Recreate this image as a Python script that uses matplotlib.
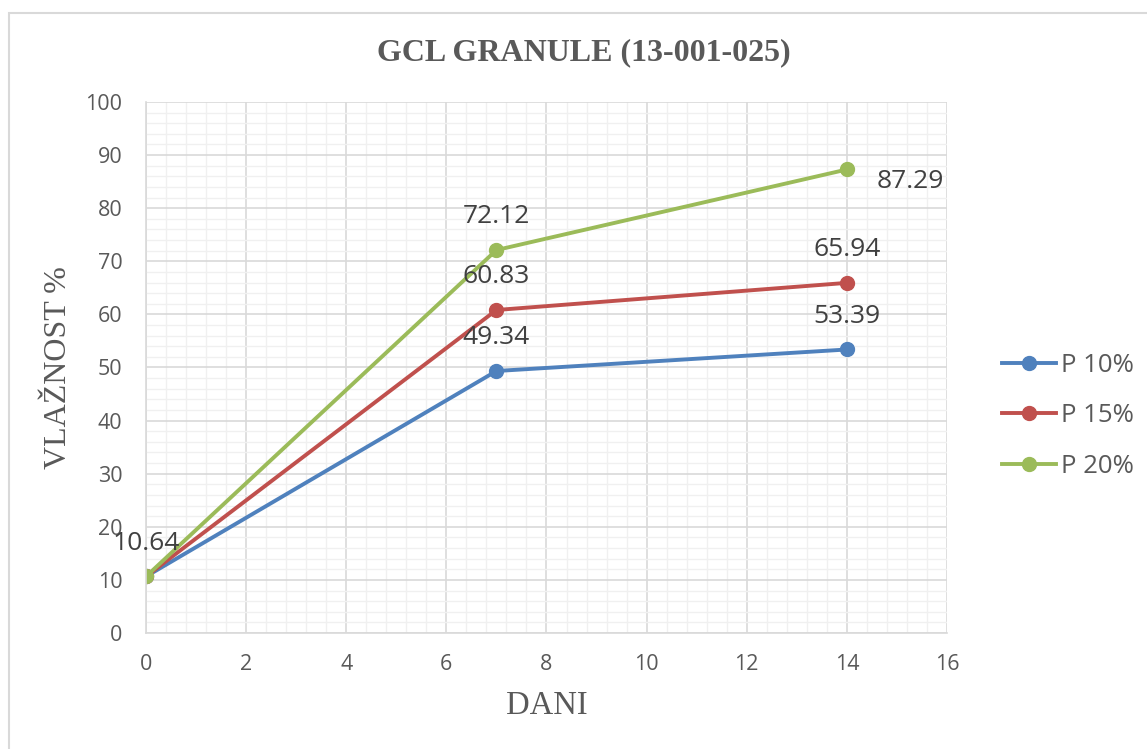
import matplotlib
matplotlib.use("Agg")
import matplotlib.pyplot as plt
from matplotlib.ticker import MultipleLocator

days = [0, 7, 14]
p10 = [10.64, 49.34, 53.39]
p15 = [10.64, 60.83, 65.94]
p20 = [10.64, 72.12, 87.29]
series_names = ["P 10%", "P 15%", "P 20%"]
colors = ["#4F81BD", "#C0504D", "#9BBB59"]

fig = plt.figure(figsize=(11.47, 7.49), dpi=100)
ax = fig.add_axes([0.1273, 0.1549, 0.6983, 0.7089])

for vals, name, col in zip([p10, p15, p20], series_names, colors):
    ax.plot(days, vals, color=col, lw=2.8, marker="o", ms=10, label=name)

# data labels (offsets in points)
lab_font = dict(fontsize=19, color="#404040", family="Open Sans")
ax.annotate(f"{p20[0]:.2f}", (days[0], p20[0]), xytext=(0, 24),
            textcoords="offset points", ha="center", va="center", **lab_font)
for vals in [p10, p15, p20]:
    ax.annotate(f"{vals[1]:.2f}", (days[1], vals[1]), xytext=(0, 24),
                textcoords="offset points", ha="center", va="center", **lab_font)
for vals in [p10, p15]:
    ax.annotate(f"{vals[2]:.2f}", (days[2], vals[2]), xytext=(0, 24),
                textcoords="offset points", ha="center", va="center", **lab_font)
ax.annotate(f"{p20[2]:.2f}", (days[2], p20[2]), xytext=(46, -9),
            textcoords="offset points", ha="center", va="center", **lab_font)

ax.set_xlim(0, 16)
ax.set_ylim(0, 100)
ax.xaxis.set_major_locator(MultipleLocator(2))
ax.xaxis.set_minor_locator(MultipleLocator(0.4))
ax.yaxis.set_major_locator(MultipleLocator(10))
ax.yaxis.set_minor_locator(MultipleLocator(2))
ax.grid(which="major", color="#D9D9D9", lw=1.2)
ax.grid(which="minor", color="#F0F0F0", lw=1.0)
ax.set_axisbelow(True)
for s in ["top", "right"]:
    ax.spines[s].set_visible(False)
for s in ["left", "bottom"]:
    ax.spines[s].set_color("#D9D9D9")
    ax.spines[s].set_linewidth(1.2)
ax.tick_params(which="both", length=0, labelsize=15.5, labelcolor="#595959")
ax.tick_params(axis="x", pad=15)
ax.tick_params(axis="y", pad=17)
for t in ax.get_xticklabels() + ax.get_yticklabels():
    t.set_family("Open Sans")

ax.set_xlabel("DANI", family="Liberation Serif", fontsize=23.5, color="#595959", labelpad=11)
ax.set_ylabel("VLAŽNOST %", family="Liberation Serif", fontsize=23, color="#595959", labelpad=9)
fig.text(0.509, 0.93, "GCL GRANULE (13-001-025)", ha="center", va="center",
         family="Liberation Serif", fontsize=23, fontweight="bold", color="#595959")

leg = fig.legend(loc="center left", bbox_to_anchor=(0.8535, 0.445), frameon=False,
                 prop={"family": "Open Sans", "size": 18.5}, labelcolor="#595959",
                 handlelength=2.1, handletextpad=0.2, labelspacing=1.0)

# chart border like the spreadsheet frame (right and bottom edges run off the picture)
fig.patches.append(plt.Rectangle((0.0075, -0.02), 1.05, 1.003, transform=fig.transFigure,
                                 fill=False, edgecolor="#D9D9D9", lw=1.5))

fig.savefig("out.png", dpi=100)
